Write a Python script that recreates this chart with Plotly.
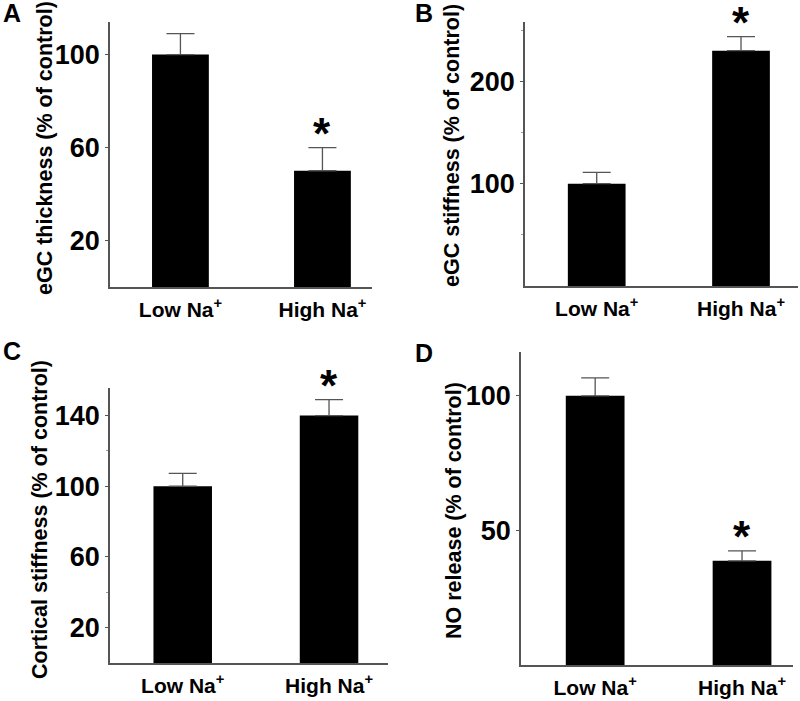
import plotly.graph_objects as go

groups = ["Low Na<sup>+</sup>", "High Na<sup>+</sup>"]

thickness_mean = [100, 50]
thickness_sem = [9, 10]

egc_stiffness_mean = [100, 230]
egc_stiffness_sem = [11, 13.7]

cortical_mean = [100, 140]
cortical_sem = [7.3, 9]

no_release_mean = [100, 38.7]
no_release_sem = [6.7, 3.7]

y_titles = ["eGC thickness (% of control)", "eGC stiffness (% of control)",
            "Cortical stiffness (% of control)", "NO release (% of control)"]
y_ticks = [[20, 60, 100], [100, 200], [20, 60, 100, 140], [50, 100]]
y_minor = [None, 50, 40, None]
y_ranges = [[0, 114], [0, 258], [0, 155.6], [0, 116.3]]
x_ranges = [[-0.496, 1.349], [-0.497, 1.395], [-0.497, 1.403], [-0.505, 1.347]]
panel_letters = ["A", "B", "C", "D"]

W, H = 800, 701
# axis boxes in pixels (left, right, top, bottom)
boxes = [(110, 372, 22, 287), (525, 798, 22, 286),
         (110, 388, 388, 663), (521, 793, 352, 665)]
title_pos = [(45, 148), (452, 145), (40, 520), (454, 511)]
letter_pos = [(12, 13), (424, 13), (12, 351), (424, 353)]

means = [thickness_mean, egc_stiffness_mean, cortical_mean, no_release_mean]
sems = [thickness_sem, egc_stiffness_sem, cortical_sem, no_release_sem]

FONT = "Liberation Sans, Arial, sans-serif"
AX = "#555555"

fig = go.Figure()
annotations = []

for i in range(4):
    n = "" if i == 0 else str(i + 1)
    l, r, t, b = boxes[i]
    fig.add_trace(go.Bar(
        x=[0, 1], y=means[i], width=0.40,
        marker=dict(color="black", line_width=0),
        error_y=dict(type="data", array=sems[i], arrayminus=[0, 0], symmetric=False,
                     color=AX, thickness=1.3, width=14),
        xaxis="x" + n, yaxis="y" + n, showlegend=False,
    ))
    minor = dict(ticks="outside", ticklen=2, tickcolor="#999999", dtick=y_minor[i] * 2,
                 tick0=y_minor[i]) if y_minor[i] else dict(ticks="")
    fig.update_layout(**{
        "xaxis" + n: dict(domain=[l / W, r / W], range=x_ranges[i],
                          anchor="y" + n, showline=True, linecolor=AX, linewidth=1.5,
                          showgrid=False, zeroline=False, ticks="",
                          tickvals=[0, 1], ticktext=groups, ticklabelstandoff=3,
                          tickfont=dict(family=FONT, size=21, color="black", weight="bold")),
        "yaxis" + n: dict(domain=[1 - b / H, 1 - t / H], range=y_ranges[i],
                          anchor="x" + n, showline=True, linecolor=AX, linewidth=1.5,
                          showgrid=False, zeroline=False, ticks="outside", ticklen=3,
                          tickcolor=AX, tickvals=y_ticks[i], minor=minor,
                          tickfont=dict(family=FONT, size=27, color="black", weight="bold")),
    })
    tx, ty = title_pos[i]
    annotations.append(dict(x=tx / W, y=1 - ty / H, xref="paper", yref="paper",
                            xanchor="center", yanchor="middle",
                            text=y_titles[i], textangle=-90, showarrow=False,
                            font=dict(family=FONT, size=21.5, color="black", weight="bold")))
    lx, ly = letter_pos[i]
    annotations.append(dict(x=lx / W, y=1 - ly / H, xref="paper", yref="paper",
                            xanchor="center", yanchor="middle",
                            text=panel_letters[i], showarrow=False,
                            font=dict(family=FONT, size=25, color="black", weight="bold")))
    annotations.append(dict(x=1, y=means[i][1] + sems[i][1], xref="x" + n, yref="y" + n,
                            text="*", showarrow=False, yanchor="bottom", yshift=-12,
                            font=dict(family=FONT, size=44, color="black", weight="bold")))

fig.update_layout(
    width=W, height=H, margin=dict(l=0, r=0, t=0, b=0),
    paper_bgcolor="white", plot_bgcolor="white",
    annotations=annotations,
)

# drop the page's default body margin so the figure fills the window
fig.write_html("out.html", config={"displayModeBar": False},
               post_script="document.body.style.margin='0';")
